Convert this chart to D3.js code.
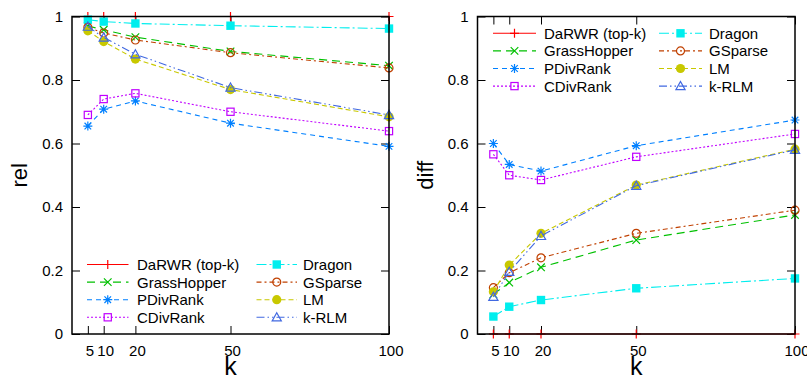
<!DOCTYPE html>
<html>
<head>
<meta charset="utf-8">
<script src="https://cdn.jsdelivr.net/npm/d3@7"></script>
<style>
  html, body { margin: 0; padding: 0; background: #fff; }
  svg { display: block; font-family: "Liberation Sans", Arial, Helvetica, sans-serif; }
</style>
</head>
<body>
<svg id="chart" width="807" height="377"></svg>
<script>
// ---------------- data ----------------
const categories = [5, 10, 20, 50, 100];
const seriesNames = ["DaRWR (top-k)", "GrassHopper", "PDivRank", "CDivRank", "Dragon", "GSparse", "LM", "k-RLM"];
const yTicks = [0, 0.2, 0.4, 0.6, 0.8, 1];

// rel (left panel)
const relDaRWR       = [1, 1, 1, 1, 1];
const relGrassHopper = [0.970, 0.958, 0.935, 0.890, 0.845];
const relPDivRank    = [0.655, 0.708, 0.734, 0.664, 0.591];
const relCDivRank    = [0.690, 0.740, 0.758, 0.700, 0.639];
const relDragon      = [0.990, 0.984, 0.978, 0.971, 0.962];
const relGSparse     = [0.966, 0.948, 0.926, 0.886, 0.838];
const relLM          = [0.955, 0.921, 0.866, 0.770, 0.684];
const relKRLM        = [0.968, 0.934, 0.881, 0.776, 0.690];

// diff (right panel)
const diffDaRWR       = [0, 0, 0, 0, 0];
const diffGrassHopper = [0.125, 0.162, 0.210, 0.296, 0.375];
const diffPDivRank    = [0.600, 0.534, 0.513, 0.593, 0.674];
const diffCDivRank    = [0.566, 0.500, 0.485, 0.558, 0.630];
const diffDragon      = [0.055, 0.086, 0.107, 0.144, 0.175];
const diffGSparse     = [0.146, 0.193, 0.240, 0.317, 0.390];
const diffLM          = [0.133, 0.217, 0.317, 0.469, 0.582];
const diffKRLM        = [0.117, 0.196, 0.309, 0.467, 0.580];

const relSeries  = [relDaRWR, relGrassHopper, relPDivRank, relCDivRank, relDragon, relGSparse, relLM, relKRLM];
const diffSeries = [diffDaRWR, diffGrassHopper, diffPDivRank, diffCDivRank, diffDragon, diffGSparse, diffLM, diffKRLM];

// ---------------- styles ----------------
const styles = [
  { color: "#ff0000", dash: null,            marker: "plus" },
  { color: "#00c000", dash: "8,5",           marker: "cross" },
  { color: "#0080ff", dash: "5,4",           marker: "star" },
  { color: "#c000ff", dash: "2,2",           marker: "squareOpen" },
  { color: "#00eeee", dash: "10,3,2,3",      marker: "squareFilled" },
  { color: "#c04000", dash: "5,3,2,3",       marker: "circleOpen" },
  { color: "#c8c800", dash: "5,3",           marker: "circleFilled" },
  { color: "#4169e1", dash: "8,3,1.5,3,1.5,3", marker: "triangleOpen" }
];

const svg = d3.select("#chart");

function drawMarker(g, type, color) {
  const s = 4.5;
  if (type === "plus") {
    g.append("path").attr("d", `M${-s},0H${s}M0,${-s}V${s}`).attr("stroke", color).attr("stroke-width", 1.2).attr("fill", "none");
  } else if (type === "cross") {
    const c = 3.8;
    g.append("path").attr("d", `M${-c},${-c}L${c},${c}M${-c},${c}L${c},${-c}`).attr("stroke", color).attr("stroke-width", 1.2).attr("fill", "none");
  } else if (type === "star") {
    const c = 3.3;
    g.append("path").attr("d", `M${-s},0H${s}M0,${-s}V${s}M${-c},${-c}L${c},${c}M${-c},${c}L${c},${-c}`).attr("stroke", color).attr("stroke-width", 1.2).attr("fill", "none");
  } else if (type === "squareOpen") {
    g.append("rect").attr("x", -3.6).attr("y", -3.6).attr("width", 7.2).attr("height", 7.2).attr("fill", "none").attr("stroke", color).attr("stroke-width", 1.2);
  } else if (type === "squareFilled") {
    g.append("rect").attr("x", -4.2).attr("y", -4.2).attr("width", 8.4).attr("height", 8.4).attr("fill", color);
  } else if (type === "circleOpen") {
    g.append("circle").attr("r", 4).attr("fill", "none").attr("stroke", color).attr("stroke-width", 1.2);
  } else if (type === "circleFilled") {
    g.append("circle").attr("r", 4.6).attr("fill", color);
  } else if (type === "triangleOpen") {
    g.append("path").attr("d", "M0,-4.6L4.6,3.6L-4.6,3.6Z").attr("fill", "none").attr("stroke", color).attr("stroke-width", 1.2);
  }
}

function panel(opts) {
  const { left, right, top, bottom, series, ylabel, ylabelX, legendY, legendCols } = opts;
  const x = d3.scaleLinear().domain([0, 100]).range([left, right]);
  const y = d3.scaleLinear().domain([0, 1]).range([bottom, top]);
  const g = svg.append("g");

  // axes (inward ticks, mirrored)
  const fmt = d => d3.format("~g")(d);
  const ax = g.append("g").attr("class", "axes");
  const yl = ax.append("g").attr("transform", `translate(${left},0)`)
    .call(d3.axisLeft(y).tickValues(yTicks).tickFormat(fmt).tickSize(-8).tickPadding(9));
  const yr = ax.append("g").attr("transform", `translate(${right},0)`)
    .call(d3.axisRight(y).tickValues(yTicks).tickFormat("").tickSize(-8));
  const xb = ax.append("g").attr("transform", `translate(0,${bottom})`)
    .call(d3.axisBottom(x).tickValues(categories).tickFormat(fmt).tickSize(-8).tickPadding(11));
  const xt = ax.append("g").attr("transform", `translate(0,${top})`)
    .call(d3.axisTop(x).tickValues(categories).tickFormat("").tickSize(-8));
  ax.selectAll(".domain").remove();
  ax.selectAll(".tick line").attr("stroke", "#000").attr("stroke-width", 1);
  ax.selectAll(".tick text").attr("font-size", 15).attr("fill", "#000")
    .attr("font-family", "'Liberation Sans', Arial, sans-serif");
  xb.selectAll(".tick text").attr("dx", 1.5);

  // series
  const line = d3.line().x((d, i) => x(categories[i])).y(d => y(d));
  series.forEach((vals, si) => {
    const st = styles[si];
    const sg = g.append("g");
    sg.append("path").datum(vals).attr("d", line)
      .attr("fill", "none").attr("stroke", st.color).attr("stroke-width", 1.1)
      .attr("stroke-dasharray", st.dash);
    vals.forEach((v, i) => {
      const mg = sg.append("g").attr("transform", `translate(${x(categories[i])},${y(v)})`);
      drawMarker(mg, st.marker, st.color);
    });
  });

  // border on top
  g.append("rect").attr("x", left).attr("y", top).attr("width", right - left).attr("height", bottom - top)
    .attr("fill", "none").attr("stroke", "#000").attr("stroke-width", 1.5);

  // axis labels
  g.append("text").attr("transform", `translate(${ylabelX},${(top + bottom) / 2}) rotate(-90)`)
    .attr("text-anchor", "middle").attr("font-size", 22).text(ylabel);
  g.append("text").attr("x", (left + right) / 2).attr("y", 375)
    .attr("text-anchor", "middle").attr("font-size", 25).text("k");

  // legend
  const rowH = 17.6;
  seriesNames.forEach((name, si) => {
    const col = si < 4 ? 0 : 1;
    const row = si % 4;
    const lc = legendCols[col];
    const ly = legendY + row * rowH;
    const st = styles[si];
    const lg = g.append("g");
    lg.append("line").attr("x1", lc.x0).attr("x2", lc.x1).attr("y1", ly).attr("y2", ly)
      .attr("stroke", st.color).attr("stroke-width", 1.1).attr("stroke-dasharray", st.dash);
    const mg = lg.append("g").attr("transform", `translate(${(lc.x0 + lc.x1) / 2},${ly})`);
    drawMarker(mg, st.marker, st.color);
    lg.append("text").attr("x", lc.tx).attr("y", ly).attr("dy", "0.36em")
      .attr("font-size", 15).text(name);
  });
}

panel({
  left: 72, right: 389, top: 16.5, bottom: 334,
  series: relSeries, ylabel: "rel", ylabelX: 27,
  legendY: 264.5,
  legendCols: [{ x0: 87, x1: 128.5, tx: 137 }, { x0: 256.5, x1: 297, tx: 303 }]
});
panel({
  left: 477.5, right: 795, top: 16.5, bottom: 334,
  series: diffSeries, ylabel: "diff", ylabelX: 433,
  legendY: 33.3,
  legendCols: [{ x0: 493, x1: 536, tx: 544 }, { x0: 659, x1: 702, tx: 709 }]
});
</script>
</body>
</html>
